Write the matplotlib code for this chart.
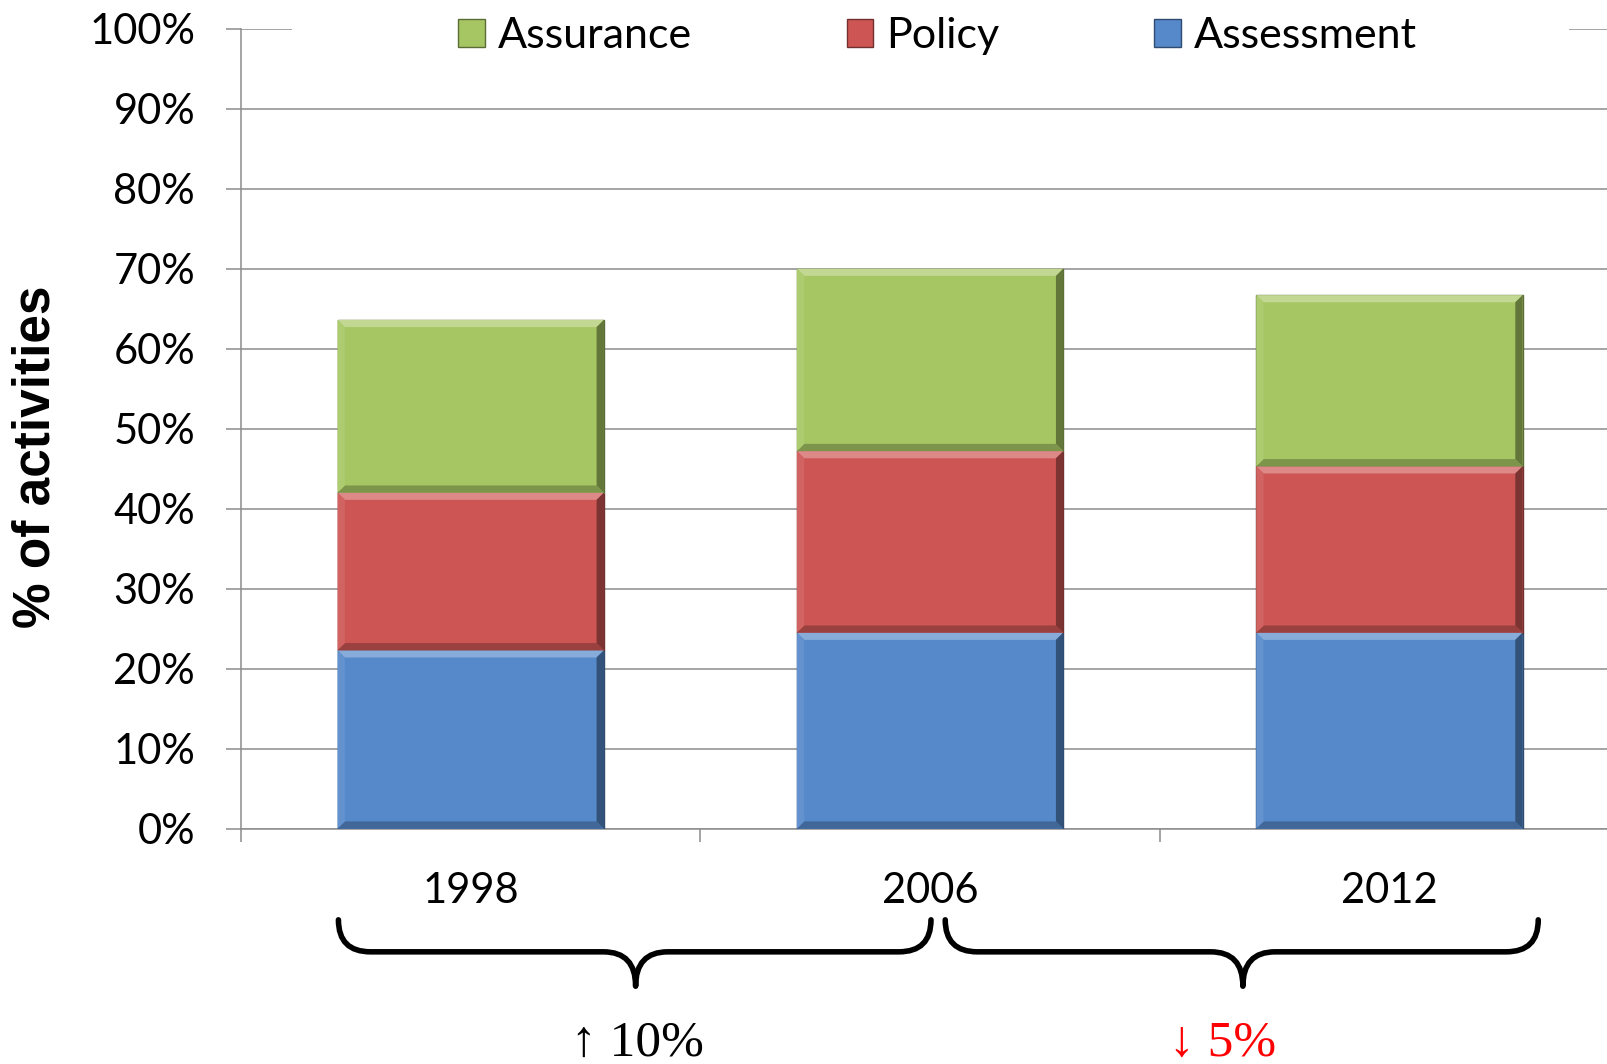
import matplotlib
matplotlib.use('Agg')
import matplotlib.pyplot as plt
import matplotlib.transforms as mtransforms
from matplotlib.patches import Polygon, Rectangle, Patch, PathPatch
from matplotlib.path import Path
from matplotlib.colors import to_rgb
import numpy as np

# data (fractions of activities)
years = ['1998', '2006', '2012']
assessment = [0.223, 0.245, 0.245]
policy = [0.197, 0.227, 0.208]
assurance = [0.216, 0.228, 0.214]
series_names = ['Assessment', 'Policy', 'Assurance']
series_colors = ['#5589CA', '#CD5654', '#A6C663']
yticks = np.arange(0, 1.01, 0.1)
ytick_labels = ['%d%%' % round(v * 100) for v in yticks]

# change annotations below the axis
changes = ['\u2191 10%', '\u2193 5%']
change_colors = ['black', 'red']
change_x = [0.363, 1.636]
brace_spans = [(-0.288, 1.002), (1.033, 2.324)]
brace_tips = [0.359, 1.681]

tick_font = 'Lato'

fig = plt.figure(figsize=(16.08, 10.64), dpi=100)
ax = fig.add_axes([0.1499, 0.2212, 0.857, 0.7518])

grid_col = '#8C8C8C'


def shade(c, f):
    r = np.array(to_rgb(c))
    if f > 0:
        return tuple(r + (1 - r) * f)
    return tuple(r * (1 + f))


x = np.arange(len(years))
bottom = np.zeros(len(years))
bw = 0.58
for vals, name, col in zip([assessment, policy, assurance], series_names, series_colors):
    bars = ax.bar(x, vals, bw, bottom=bottom, color=col, edgecolor=shade(col, -0.45),
                  linewidth=1.0, zorder=3, label=name)
    # simple bevel look on each segment
    for p in bars.patches:
        x0, y0, w, h = p.get_x(), p.get_y(), p.get_width(), p.get_height()
        dx, dy = 0.016, 0.009
        x1, y1 = x0 + w, y0 + h
        faces = [
            ([(x0, y1), (x1, y1), (x1 - dx, y1 - dy), (x0 + dx, y1 - dy)], shade(col, 0.3)),
            ([(x0, y0), (x1, y0), (x1 - dx, y0 + dy), (x0 + dx, y0 + dy)], shade(col, -0.25)),
            ([(x0, y0), (x0, y1), (x0 + dx, y1 - dy), (x0 + dx, y0 + dy)], shade(col, 0.08)),
            ([(x1, y0), (x1, y1), (x1 - dx, y1 - dy), (x1 - dx, y0 + dy)], shade(col, -0.4)),
        ]
        for pts, fc in faces:
            ax.add_patch(Polygon(pts, closed=True, facecolor=fc, edgecolor='none', zorder=4))
    bottom = bottom + np.array(vals)

ax.set_xlim(-0.5, 2.5)
ax.set_ylim(0, 1)
ax.set_axisbelow(True)
ax.yaxis.grid(True, color=grid_col, linewidth=1.1)
for s in ['top', 'right']:
    ax.spines[s].set_visible(False)
for s in ['left', 'bottom']:
    ax.spines[s].set_color(grid_col)
    ax.spines[s].set_linewidth(1.1)

ax.set_yticks(yticks)
ax.set_yticklabels(ytick_labels, fontsize=30, family=tick_font)
ax.tick_params(axis='y', length=11, width=1.1, color=grid_col, pad=22)
ax.set_xticks(x)
ax.set_xticklabels(years, fontsize=30, family=tick_font)
ax.set_xticks(np.arange(-0.5, 2.6, 1.0), minor=True)
ax.tick_params(axis='x', which='major', length=0, pad=31)
ax.tick_params(axis='x', which='minor', length=9, width=1.1, color=grid_col)

# white band behind the legend hides the 100% gridline there
ax.add_patch(Rectangle((0.037, 0.97), 0.927, 0.06, transform=ax.transAxes,
                       facecolor='white', edgecolor='none', zorder=2, clip_on=False))

handles = [Patch(facecolor=c, edgecolor=shade(c, -0.45), label=n)
           for n, c in zip(series_names, series_colors)]
order = [2, 1, 0]
leg = fig.legend([handles[i] for i in order], [series_names[i] for i in order],
                 loc='center', bbox_to_anchor=(0.583, 0.966), ncol=3, frameon=False,
                 prop={'family': tick_font, 'size': 31}, handlelength=0.62,
                 handleheight=0.62, handletextpad=0.3, columnspacing=3.6)

fig.text(0.0224, 0.571, '% of activities', rotation=90, ha='center', va='center',
         fontsize=37, fontweight='bold', family=['Liberation Sans Narrow', 'Liberation Sans'])

# braces under the categories
trans = mtransforms.blended_transform_factory(ax.transData, ax.transAxes)
yt, yh, ytip = -0.114, -0.154, -0.197
r = 0.07
for (xa, xb), xm in zip(brace_spans, brace_tips):
    verts = [(xa, yt), (xa, yh), (xa + r, yh),
             (xm - r, yh), (xm, yh), (xm, ytip),
             (xm, yh), (xm + r, yh),
             (xb - r, yh), (xb, yh), (xb, yt)]
    codes = [Path.MOVETO, Path.CURVE3, Path.CURVE3,
             Path.LINETO, Path.CURVE3, Path.CURVE3,
             Path.CURVE3, Path.CURVE3,
             Path.LINETO, Path.CURVE3, Path.CURVE3]
    ax.add_patch(PathPatch(Path(verts, codes), facecolor='none', edgecolor='black',
                           linewidth=4, transform=trans, clip_on=False,
                           capstyle='round', joinstyle='round'))

for xm, txt, c in zip(change_x, changes, change_colors):
    ax.text(xm, -0.284, txt, transform=trans, ha='center', va='baseline', color=c,
            fontsize=37, family=['Liberation Serif', 'DejaVu Serif'], clip_on=False)

fig.savefig('out.png', dpi=100)
